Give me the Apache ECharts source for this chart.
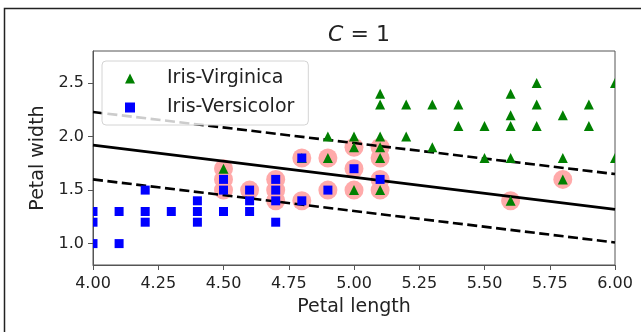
<!DOCTYPE html>
<html>
<head>
<meta charset="utf-8">
<script src="https://cdn.jsdelivr.net/npm/echarts@6/dist/echarts.min.js"></script>
<style>
  html, body {margin: 0; padding: 0; background: #fff;}
  #chart {width: 641px; height: 332px;}
</style>
</head>
<body>
<div id="chart"></div>
<script>
// [petal length, petal width]
const virginica = [
  [4.5, 1.7], [4.8, 1.8], [4.9, 2.0], [4.9, 1.8], [5.0, 2.0], [5.0, 1.9], [5.0, 1.5],
  [5.1, 2.4], [5.1, 2.3], [5.1, 2.0], [5.1, 1.9], [5.1, 1.8], [5.1, 1.5],
  [5.2, 2.3], [5.2, 2.0], [5.3, 2.3], [5.3, 1.9], [5.4, 2.3], [5.4, 2.1],
  [5.5, 2.1], [5.5, 1.8], [5.6, 2.4], [5.6, 2.2], [5.6, 2.1], [5.6, 1.8], [5.6, 1.4],
  [5.7, 2.5], [5.7, 2.3], [5.7, 2.1], [5.8, 2.2], [5.8, 1.8], [5.8, 1.6],
  [5.9, 2.3], [5.9, 2.1], [6.0, 2.5], [6.0, 1.8]
];
const versicolor = [
  [4.0, 1.3], [4.0, 1.2], [4.0, 1.0], [4.1, 1.3], [4.1, 1.0],
  [4.2, 1.5], [4.2, 1.3], [4.2, 1.2], [4.3, 1.3], [4.4, 1.4], [4.4, 1.3], [4.4, 1.2],
  [4.5, 1.6], [4.5, 1.5], [4.5, 1.3], [4.6, 1.5], [4.6, 1.4], [4.6, 1.3],
  [4.7, 1.6], [4.7, 1.5], [4.7, 1.4], [4.7, 1.2], [4.8, 1.8], [4.8, 1.4],
  [4.9, 1.5], [5.0, 1.7], [5.1, 1.6]
];
const supportVectors = [
  [4.5, 1.7], [4.5, 1.6], [4.5, 1.5], [4.6, 1.5], [4.7, 1.6], [4.7, 1.5], [4.7, 1.4],
  [4.8, 1.8], [4.8, 1.4], [4.9, 1.8], [4.9, 1.5], [5.0, 1.9], [5.0, 1.7], [5.0, 1.5],
  [5.1, 1.9], [5.1, 1.8], [5.1, 1.6], [5.1, 1.5], [5.6, 1.4], [5.8, 1.6]
];
const lineX = [4, 6];
const boundary = [1.92, 1.32];
const gutterUp = [2.23, 1.65];
const gutterDown = [1.60, 1.01];
const yTicks = [1.0, 1.5, 2.0, 2.5];

const font = 'DejaVu Sans';
const pairs = ys => lineX.map((x, i) => [x, ys[i]]);
const lineSeries = (ys, type) => ({
  type: 'line',
  data: pairs(ys),
  showSymbol: false,
  silent: true,
  z: 2,
  lineStyle: {color: '#000', width: 2.6, type: type}
});

// markers drawn as custom shapes so they get clipped at the axes like matplotlib
const triangleItem = (params, api) => {
  const p = api.coord([api.value(0), api.value(1)]);
  const r = 5;
  return {
    type: 'polygon',
    shape: {points: [[p[0], p[1] - r], [p[0] - r, p[1] + r], [p[0] + r, p[1] + r]]},
    style: {fill: '#008000'}
  };
};
const squareItem = (params, api) => {
  const p = api.coord([api.value(0), api.value(1)]);
  const h = 4.5;
  return {
    type: 'rect',
    shape: {x: p[0] - h, y: p[1] - h, width: 2 * h, height: 2 * h},
    style: {fill: '#0000ff'}
  };
};

const chart = echarts.init(document.getElementById('chart'));
chart.setOption({
  animation: false,
  backgroundColor: '#fff',
  title: {
    text: '{i|C} = 1',
    left: 354,
    top: 19,
    textAlign: 'center',
    textStyle: {
      fontFamily: font, fontSize: 22, fontWeight: 'normal', color: '#222',
      rich: {i: {fontFamily: font, fontSize: 22, fontStyle: 'italic', color: '#222'}}
    }
  },
  grid: {left: 93, right: 26, top: 51, bottom: 67, show: true, borderColor: '#555', borderWidth: 1},
  legend: {
    orient: 'vertical',
    left: 102,
    top: 61,
    padding: [8, 14, 8, 23],
    itemGap: 10,
    itemWidth: 10,
    itemHeight: 10,
    selectedMode: false,
    backgroundColor: 'rgba(255,255,255,0.8)',
    borderColor: '#d4d4d4',
    borderWidth: 1,
    borderRadius: 4,
    textStyle: {fontFamily: font, fontSize: 19, color: '#222', padding: [0, 0, 0, 27]},
    data: [
      {name: 'Iris-Virginica', icon: 'triangle'},
      {name: 'Iris-Versicolor', icon: 'rect'}
    ]
  },
  xAxis: {
    type: 'value',
    min: 4,
    max: 6,
    interval: 0.25,
    name: 'Petal length',
    nameLocation: 'middle',
    nameGap: 33,
    nameTextStyle: {fontFamily: font, fontSize: 19, color: '#222'},
    splitLine: {show: false},
    axisLine: {lineStyle: {color: '#555', width: 1}},
    axisTick: {length: 5, lineStyle: {color: '#555'}},
    axisLabel: {fontFamily: font, fontSize: 16, color: '#222', margin: 11, formatter: v => v.toFixed(2)}
  },
  yAxis: {
    type: 'value',
    min: 0.8,
    max: 2.8,
    name: 'Petal width',
    nameLocation: 'middle',
    nameGap: 40,
    nameTextStyle: {fontFamily: font, fontSize: 19, color: '#222'},
    splitLine: {show: false},
    axisLine: {show: true, lineStyle: {color: '#555', width: 1}},
    axisTick: {show: true, length: 5, customValues: yTicks, lineStyle: {color: '#555'}},
    axisLabel: {fontFamily: font, fontSize: 16, color: '#222', margin: 9, customValues: yTicks, formatter: v => v.toFixed(1)}
  },
  graphic: [{
    type: 'polyline',
    shape: {points: [[4.5, 340], [4.5, 8.5], [700, 8.5]]},
    style: {fill: null, stroke: '#222', lineWidth: 1.5},
    silent: true
  }],
  series: [
    {
      name: 'support vectors',
      type: 'scatter',
      data: supportVectors,
      symbol: 'circle',
      symbolSize: 19,
      z: 1,
      itemStyle: {color: '#FFAAAA', opacity: 1}
    },
    lineSeries(boundary, 'solid'),
    lineSeries(gutterUp, [10, 4.5]),
    lineSeries(gutterDown, [10, 4.5]),
    {
      name: 'Iris-Virginica',
      type: 'custom',
      data: virginica,
      clip: true,
      z: 3,
      itemStyle: {color: '#008000'},
      renderItem: triangleItem
    },
    {
      name: 'Iris-Versicolor',
      type: 'custom',
      data: versicolor,
      clip: true,
      z: 4,
      itemStyle: {color: '#0000ff'},
      renderItem: squareItem
    }
  ]
});
</script>
</body>
</html>
